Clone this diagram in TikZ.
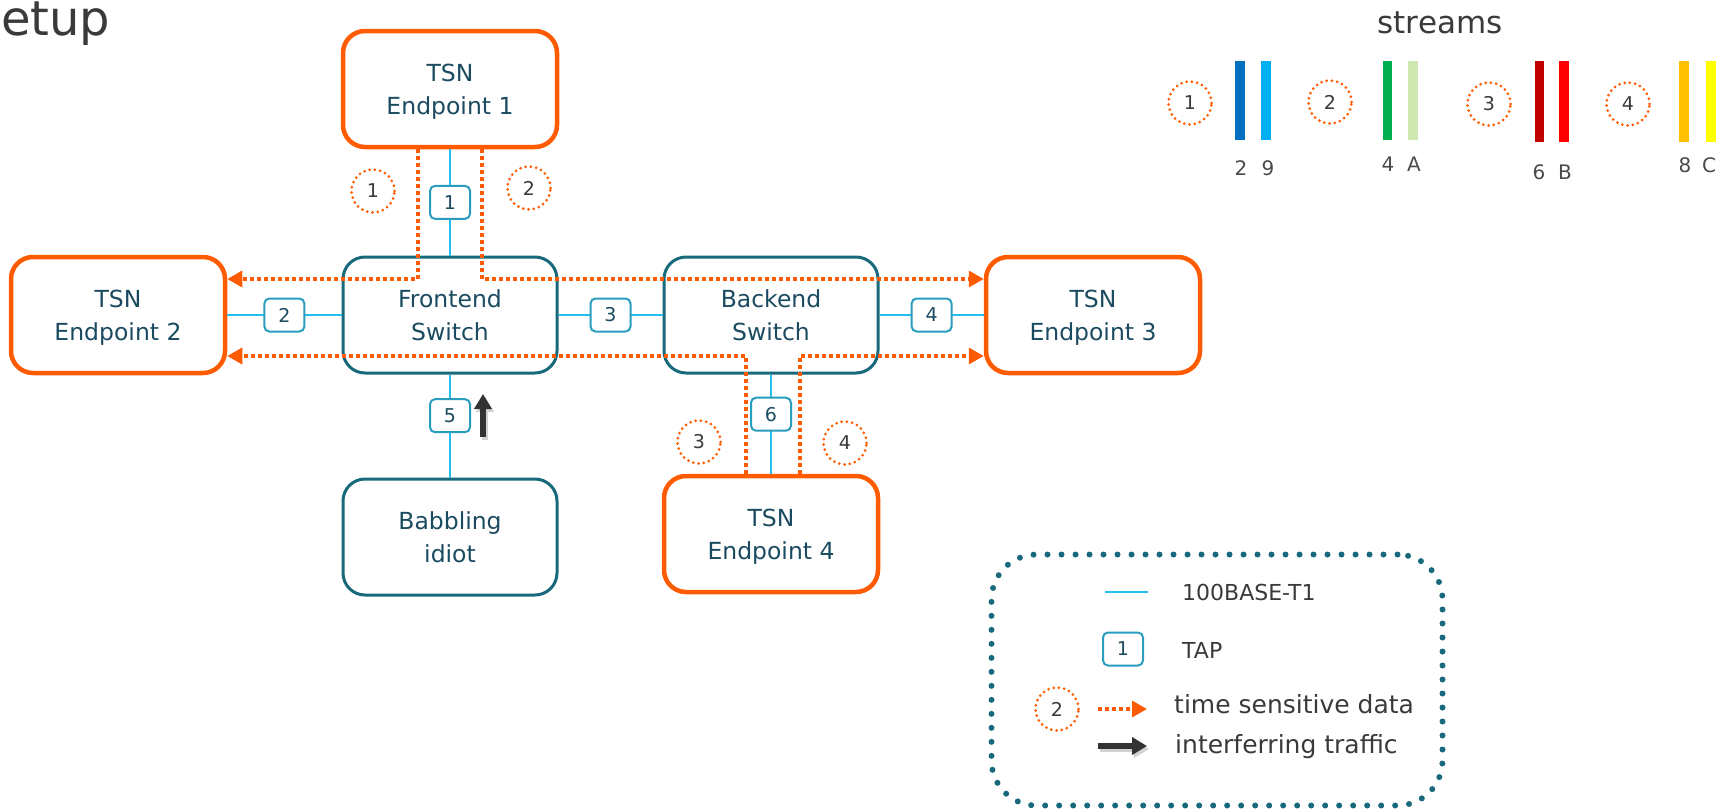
\documentclass[tikz,border=0pt]{standalone}
\usepackage{fontspec}
\setmainfont{DejaVu Sans}
\usetikzlibrary{arrows.meta,calc}
\definecolor{orng}{HTML}{FF5B00}
\definecolor{teal1}{HTML}{17697B}
\definecolor{tealtxt}{HTML}{1B4B60}
\definecolor{tapc}{HTML}{2A9DBE}
\definecolor{ethc}{HTML}{22BEF0}
\definecolor{darkg}{HTML}{333333}
\definecolor{txtg}{HTML}{3A3A3A}
\definecolor{lblg}{HTML}{4A4A4A}
\definecolor{b1}{HTML}{0070C0}
\definecolor{b2}{HTML}{00B0F0}
\definecolor{g1}{HTML}{00B050}
\definecolor{g2}{HTML}{CFE8B2}
\definecolor{r1}{HTML}{C00000}
\definecolor{r2}{HTML}{FF0000}
\definecolor{y1}{HTML}{FFC000}
\definecolor{y2}{HTML}{FFFF00}
\newcommand{\nodepth}[1]{\raisebox{0pt}[\height][0pt]{#1}}
\begin{document}
\begin{tikzpicture}[x=1pt,y=-1pt,
  box/.style={rounded corners=22pt, minimum width=214pt, minimum height=116pt, fill=white, align=center, text=tealtxt, font=\fontsize{23.5}{33}\selectfont, inner sep=0pt},
  ep/.style={box, draw=orng, line width=4.5pt},
  sw/.style={box, draw=teal1, line width=3pt},
  tap/.style={draw=tapc, line width=2pt, fill=white, rounded corners=5pt, minimum width=40pt, minimum height=33pt, inner sep=0pt, text=tealtxt, font=\fontsize{19}{19}\selectfont},
  eth/.style={draw=ethc, line width=2.5pt},
  ts/.style={draw=orng, line width=3.5pt, dash pattern=on 3.5pt off 3.5pt, -{Triangle[length=15pt,width=16pt]}},
  snum/.style={circle, draw=orng, line width=3pt, dash pattern=on 0pt off 5.3pt, line cap=round, minimum size=43pt, inner sep=0pt, text=txtg, font=\fontsize{19}{19}\selectfont},
  interf/.style={draw=darkg, line width=5.5pt, -{Triangle[length=15pt,width=17pt]}},
  shad/.style={draw=black!18, line width=5.5pt, -{Triangle[length=15pt,width=17pt]}},
  ltxt/.style={anchor=west, inner sep=0pt, text=txtg, font=\fontsize{22}{22}\selectfont},
  ltxtb/.style={ltxt, font=\fontsize{25}{25}\selectfont},
  slbl/.style={inner sep=0pt, text=lblg, font=\fontsize{20}{20}\selectfont},
  ]
\useasboundingbox (0,0) rectangle (1721,809);

% title fragment
\node[anchor=base west, inner sep=0pt, text=txtg, font=\fontsize{48}{48}\selectfont] (title) at (1,35) {etup};

% main boxes
\node[ep] (ep1) at (450,89) {TSN\\\nodepth{Endpoint 1}};
\node[ep] (ep2) at (118,315) {TSN\\\nodepth{Endpoint 2}};
\node[sw] (fs) at (450,315) {Frontend\\Switch};
\node[sw] (bs) at (771,315) {Backend\\Switch};
\node[ep] (ep3) at (1093,315) {TSN\\\nodepth{Endpoint 3}};
\node[sw] (bi) at (450,537) {Babbling\\idiot};
\node[ep] (ep4) at (771,534) {TSN\\\nodepth{Endpoint 4}};

% 100BASE-T1 links with TAPs
\draw[eth] (ep1.south) -- node[tap] (t1) {1} (fs.north);
\draw[eth] (ep2.east) -- node[tap] (t2) {2} (fs.west);
\draw[eth] (fs.east) -- node[tap] (t3) {3} (bs.west);
\draw[eth] (bs.east) -- node[tap] (t4) {4} (ep3.west);
\draw[eth] (fs.south) -- node[tap, pos=.4] (t5) {5} (bi.north);
\draw[eth] (bs.south) -- node[tap, pos=.4] (t6) {6} (ep4.north);

% time sensitive streams
\draw[ts] ([xshift=-32pt]ep1.south) |- ([yshift=36pt]ep2.east);
\draw[ts] ([xshift=32pt]ep1.south) |- ([yshift=36pt]ep3.west);
\draw[ts] ([xshift=-25pt]ep4.north) |- ([yshift=-41pt]ep2.east);
\draw[ts] ([xshift=29pt]ep4.north) |- ([yshift=-41pt]ep3.west);

\node[snum] (c1) at (373,191) {1};
\node[snum] (c2) at (529,188) {2};
\node[snum] (c3) at (699,442) {3};
\node[snum] (c4) at (845,443) {4};

% interfering traffic
\coordinate (ia) at (483,437);
\coordinate (ib) at (483,394);
\draw[shad] ([shift={(2pt,-3pt)}]ia) -- ([shift={(2pt,-3pt)}]ib);
\draw[interf] (ia) -- (ib);

% streams legend
\node[anchor=base, inner sep=0pt, text=txtg, font=\fontsize{31}{31}\selectfont] (strt) at (1440,33) {streams};
\node[snum] (s1) at (1190,103) {1};
\node[snum] (s2) at (1330,102) {2};
\node[snum] (s3) at (1489,104) {3};
\node[snum] (s4) at (1628,104) {4};
\fill[b1] (1235,61) rectangle (1245,140);
\fill[b2] (1261,61) rectangle (1271,140);
\fill[g1] (1383,61) rectangle (1392,140);
\fill[g2] (1408,61) rectangle (1418,140);
\fill[r1] (1535,61) rectangle (1544,142);
\fill[r2] (1559,61) rectangle (1569,142);
\fill[y1] (1679,61) rectangle (1689,142);
\fill[y2] (1706,61) rectangle (1716,142);
\node[slbl] (l2) at (1241,168) {2};
\node[slbl] (l9) at (1268,168) {9};
\node[slbl] (l4) at (1388,164) {4};
\node[slbl] (lA) at (1414,164) {A};
\node[slbl] (l6) at (1539,172) {6};
\node[slbl] (lB) at (1565,172) {B};
\node[slbl] (l8) at (1685,165) {8};
\node[slbl] (lC) at (1709,165) {C};

% legend box
\node[draw=teal1, line width=6pt, dash pattern=on 0pt off 14pt, line cap=round, rounded corners=45pt, minimum width=451pt, minimum height=251pt] (leg) at (1217,680) {};
\coordinate (e1a) at (1105,592);
\coordinate (e1b) at (1148,592);
\draw[eth] (e1a) -- (e1b);
\node[ltxt] (lt1) at (1182,592) {100BASE-T1};
\node[tap] (lt) at (1123,649) {1};
\node[ltxt] (lt2) at (1182,650) {TAP};
\node[snum] (lc) at (1057,709) {2};
\coordinate (e3a) at (1098,709);
\coordinate (e3b) at (1147,709);
\draw[ts] (e3a) -- (e3b);
\node[ltxtb] (lt3) at (1174,704) {time sensitive data};
\coordinate (e4a) at (1098,746);
\coordinate (e4b) at (1147,746);
\draw[shad] ([shift={(2pt,-3pt)}]e4a) -- ([shift={(2pt,-3pt)}]e4b);
\draw[interf] (e4a) -- (e4b);
\node[ltxtb] (lt4) at (1175,747) {interferring traffic};
\end{tikzpicture}
\end{document}
